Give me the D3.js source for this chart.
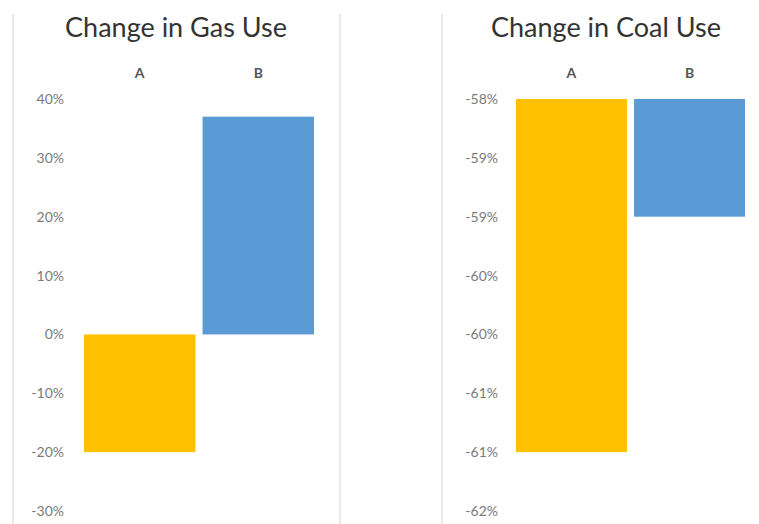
<!DOCTYPE html>
<html lang="en">
<head>
  <meta charset="UTF-8">
  <title>Change in Gas and Coal Use</title>
  <style>
    body { margin: 0; background: #fff; }
    svg text { font-family: Lato, "Open Sans", sans-serif; }
  </style>
</head>
<body>
  <svg id="chart" width="759" height="524"></svg>
  <script src="https://d3js.org/d3.v7.min.js"></script>
  <script>
    // data
    const categories = ["A", "B"];
    const gasValues = [-20, 37];
    const coalValues = [-61, -59];
    const gasTicks = [40, 30, 20, 10, 0, -10, -20, -30];
    const gasTickLabels = ["40%", "30%", "20%", "10%", "0%", "-10%", "-20%", "-30%"];
    const coalTicks = [-58, -58.5, -59, -59.5, -60, -60.5, -61, -61.5];
    const coalTickLabels = ["-58%", "-59%", "-59%", "-60%", "-60%", "-61%", "-61%", "-62%"];
    const barColors = ["#FFC000", "#5B9BD5"];

    const svg = d3.select("#chart");

    // faint panel borders
    [13, 340, 442].forEach(x => {
      svg.append("line")
        .attr("x1", x).attr("x2", x)
        .attr("y1", 14).attr("y2", 524)
        .attr("stroke", "#e2e2e2")
        .attr("stroke-width", 1.5);
    });

    function drawPanel(opts) {
      const g = svg.append("g");

      const x = d3.scaleBand()
        .domain(categories)
        .range(opts.xRange)
        .paddingInner(0.06);

      const y = d3.scaleLinear()
        .domain(opts.yDomain)
        .range([511, 99]);

      g.append("text")
        .attr("x", opts.titleX)
        .attr("y", 37)
        .attr("text-anchor", "middle")
        .attr("font-size", "27px")
        .attr("fill", "#333")
        .text(opts.title);

      const axis = d3.axisLeft(y)
        .tickValues(opts.ticks)
        .tickFormat((d, i) => opts.tickLabels[i])
        .tickSize(0)
        .tickPadding(0);

      g.append("g")
        .attr("transform", `translate(${opts.axisX},0)`)
        .call(axis)
        .call(s => s.select(".domain").remove())
        .selectAll("text")
        .attr("font-size", "14px")
        .attr("fill", "#7a7a7a")
        .style("font-family", "Lato, 'Open Sans', sans-serif");

      g.selectAll(".cat")
        .data(categories)
        .enter()
        .append("text")
        .attr("x", d => x(d) + x.bandwidth() / 2)
        .attr("y", 78)
        .attr("text-anchor", "middle")
        .attr("font-size", "14px")
        .attr("font-weight", "bold")
        .attr("fill", "#555")
        .text(d => d);

      g.selectAll(".bar")
        .data(opts.values)
        .enter()
        .append("rect")
        .attr("x", (d, i) => x(categories[i]))
        .attr("width", x.bandwidth())
        .attr("y", d => Math.min(y(d), y(opts.base)))
        .attr("height", d => Math.abs(y(d) - y(opts.base)))
        .attr("fill", (d, i) => barColors[i]);
    }

    drawPanel({
      title: "Change in Gas Use",
      titleX: 176,
      xRange: [84, 314],
      yDomain: [-30, 40],
      base: 0,
      ticks: gasTicks,
      tickLabels: gasTickLabels,
      axisX: 64,
      values: gasValues
    });

    drawPanel({
      title: "Change in Coal Use",
      titleX: 606,
      xRange: [516, 745],
      yDomain: [-61.5, -58],
      base: -58,
      ticks: coalTicks,
      tickLabels: coalTickLabels,
      axisX: 498,
      values: coalValues
    });
  </script>
</body>
</html>
